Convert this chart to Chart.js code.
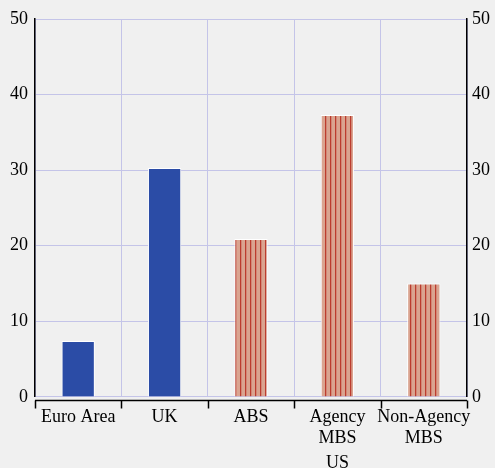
<!DOCTYPE html>
<html>
<head>
<meta charset="utf-8">
<script src="https://cdn.jsdelivr.net/npm/chart.js@4/dist/chart.umd.min.js"></script>
<style>
html,body{margin:0;padding:0;background:#f0f0f0;}
#wrap{width:495px;height:468px;}
</style>
</head>
<body>
<div id="wrap"><canvas id="c" width="495" height="468"></canvas></div>
<script>
const categories = [["Euro Area"], ["UK"], ["ABS"], ["Agency", "MBS"], ["Non-Agency", "MBS"]];
const values = [7.4, 30.3, 20.9, 37.3, 15.0];
const isUS = [false, false, true, true, true];
const groupLabel = "US";
const yTicks = [0, 10, 20, 30, 40, 50];

const FONT = "'Liberation Serif', 'Times New Roman', serif";
const FS = 18;
const BLUE = "#2b4ca6";
const GRID = "rgb(196,196,232)";

function stripePattern() {
  const c = document.createElement('canvas');
  c.width = 5; c.height = 4;
  const g = c.getContext('2d');
  g.fillStyle = "rgb(218,164,144)";
  g.fillRect(0, 0, 5, 4);
  g.fillStyle = "rgb(188,60,46)";
  g.fillRect(0, 0, 1, 4);
  g.fillStyle = "rgb(210,135,118)";
  g.fillRect(1, 0, 1, 4);
  return document.getElementById('c').getContext('2d').createPattern(c, 'repeat');
}
const pat = stripePattern();

const bgPlugin = {
  id: 'bg',
  beforeDraw(chart) {
    const ctx = chart.ctx;
    ctx.save();
    ctx.fillStyle = '#f0f0f0';
    ctx.fillRect(0, 0, chart.width, chart.height);
    ctx.restore();
  }
};

const bracketPlugin = {
  id: 'bracket',
  afterDraw(chart) {
    const ctx = chart.ctx;
    const xs = chart.scales.x;
    const ca = chart.chartArea;
    const y = ca.bottom + 3.5;
    const n = categories.length;
    const step = (xs.getPixelForValue(1) - xs.getPixelForValue(0));
    ctx.save();
    ctx.strokeStyle = '#000';
    ctx.lineWidth = 1.5;
    ctx.beginPath();
    ctx.moveTo(ca.left, y);
    ctx.lineTo(ca.right, y);
    for (let i = 0; i <= n; i++) {
      const x = Math.round(xs.getPixelForValue(0) - step / 2 + i * step) + 0.5;
      ctx.moveTo(x, y);
      ctx.lineTo(x, y + 8);
    }
    ctx.stroke();
    const idx = isUS.map((v, i) => v ? i : -1).filter(i => i >= 0);
    const cx = (xs.getPixelForValue(idx[0]) + xs.getPixelForValue(idx[idx.length - 1])) / 2;
    ctx.fillStyle = '#000';
    ctx.font = FS + "px " + FONT;
    ctx.textAlign = 'center';
    ctx.textBaseline = 'alphabetic';
    ctx.fillText(groupLabel, cx, chart.height);
    ctx.restore();
  }
};

new Chart(document.getElementById('c'), {
  type: 'bar',
  data: {
    labels: categories,
    datasets: [{
      data: values,
      backgroundColor: values.map((v, i) => isUS[i] ? pat : BLUE),
      borderColor: '#ffffff',
      borderWidth: 1,
      barPercentage: 0.385,
      categoryPercentage: 1.0
    }]
  },
  options: {
    responsive: false,
    animation: false,
    layout: { padding: { left: 3, right: 0, top: 19, bottom: 9 } },
    plugins: { legend: { display: false }, tooltip: { enabled: false } },
    scales: {
      x: {
        offset: true,
        grid: { offset: true, color: GRID, lineWidth: 1, drawTicks: false },
        border: { display: false },
        ticks: { color: '#000', font: { family: FONT, size: FS, lineHeight: 1.17 }, padding: 10, maxRotation: 0, autoSkip: false }
      },
      y: {
        position: 'left',
        min: 0, max: 50,
        afterBuildTicks: (s) => { s.ticks = yTicks.map(v => ({ value: v })); },
        grid: { color: GRID, lineWidth: 1, drawTicks: false },
        border: { display: true, color: '#000', width: 1.5 },
        ticks: { color: '#000', font: { family: FONT, size: FS }, padding: 7 }
      },
      y2: {
        position: 'right',
        min: 0, max: 50,
        afterBuildTicks: (s) => { s.ticks = yTicks.map(v => ({ value: v })); },
        grid: { display: false, drawTicks: false },
        border: { display: true, color: '#000', width: 1.5 },
        ticks: { color: '#000', font: { family: FONT, size: FS }, padding: 5 }
      }
    }
  },
  plugins: [bgPlugin, bracketPlugin]
});
</script>
</body>
</html>
